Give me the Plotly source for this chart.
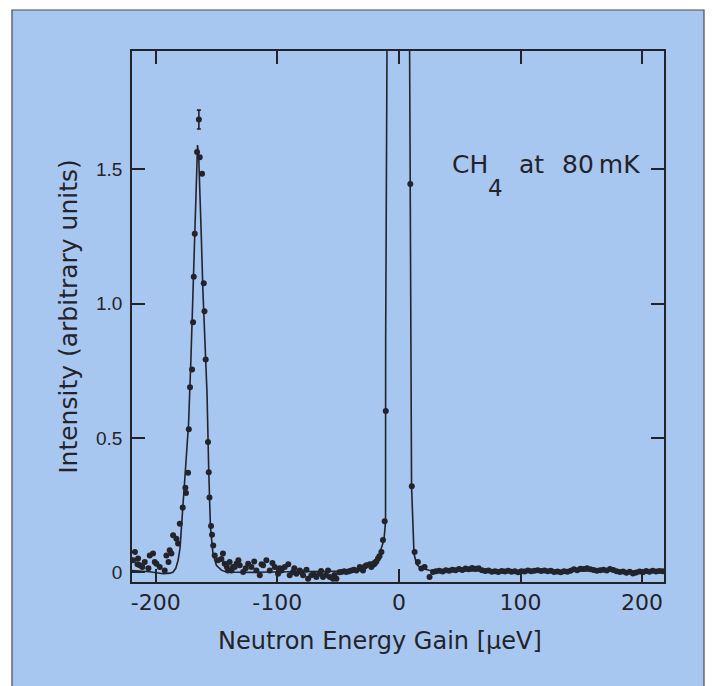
import plotly.graph_objects as go

# ---------------- data ----------------
# measured points, left wing + inelastic peak
left_x = [-218.6, -217.1, -215.0, -214.5, -213.1, -211.0, -209.0, -206.0, -204.9, -202.2,
          -200.8, -199.4, -196.7, -192.6, -191.2, -189.5, -188.5, -187.1, -185.7, -183.0,
          -181.6, -180.2, -177.8, -175.6, -175.1, -173.4, -172.8, -171.8, -170.1, -169.3,
          -168.7, -167.9, -166.0, -163.8, -161.9, -160.5, -159.9, -158.9, -157.0, -156.4,
          -155.8, -154.5, -153.7, -152.7, -151.5, -148.8, -146.0, -144.7, -143.3, -141.5,
          -140.5, -139.2, -136.4, -133.6, -132.0]
left_y = [0.045, 0.076, 0.030, 0.051, 0.026, 0.020, 0.038, 0.015, 0.063, 0.070,
          0.038, 0.032, 0.020, 0.007, 0.063, 0.038, 0.082, 0.070, 0.138, 0.125,
          0.107, 0.181, 0.241, 0.315, 0.295, 0.371, 0.532, 0.689, 0.755, 0.931,
          1.100, 1.260, 1.564, 1.545, 1.483, 1.076, 0.972, 0.792, 0.485, 0.372,
          0.278, 0.172, 0.140, 0.100, 0.063, 0.045, 0.050, 0.070, 0.032, 0.020,
          0.007, 0.038, 0.020, 0.032, 0.045]

# measured points, middle baseline up to the elastic line
mid_x = [-137.7, -135.0, -130.9, -128.1, -126.0, -124.0, -121.3, -119.0, -117.2, -114.4,
         -113.0, -111.7, -109.0, -106.2, -104.0, -102.1, -99.4, -98.0, -96.6, -93.9,
         -91.0, -89.8, -87.0, -86.0, -84.3, -81.6, -80.0, -78.8, -76.0, -74.7,
         -72.0, -70.0, -67.9, -65.1, -64.0, -62.4, -60.0, -58.3, -56.9, -54.2,
         -53.0, -51.4, -49.0, -47.3, -45.0, -43.2, -41.0, -39.1, -37.0, -35.0,
         -32.2, -31.0, -29.5, -28.0, -26.8, -24.0, -22.7, -21.0, -19.9, -18.5,
         -17.2, -16.0, -14.4, -13.1, -11.7, -10.8]
mid_y = [0.007, 0.020, 0.026, 0.001, 0.015, 0.032, 0.020, 0.040, 0.007, -0.011,
         0.030, 0.026, 0.045, 0.007, 0.035, 0.020, -0.005, 0.015, 0.007, 0.020,
         0.030, -0.011, 0.001, 0.015, -0.005, 0.007, 0.000, -0.011, 0.010, -0.024,
         -0.011, -0.005, -0.017, -0.005, 0.005, -0.017, -0.010, 0.007, -0.017, -0.024,
         -0.010, -0.024, 0.000, 0.001, 0.004, 0.001, 0.004, 0.007, 0.010, 0.007,
         0.020, 0.012, 0.007, 0.022, 0.026, 0.030, 0.020, 0.028, 0.032, 0.040,
         0.051, 0.060, 0.076, 0.120, 0.190, 0.600]

# measured points, right of the elastic line
right_x = [9.4, 10.6, 12.9, 15.6, 18.4, 21.1, 25.2, 28.0,
           30.5, 33.2, 35.9, 38.6, 41.3, 44.0, 46.7, 49.4, 52.1, 54.8,
           57.5, 60.2, 62.9, 65.6, 68.3, 71.0, 73.7, 76.4, 79.1, 81.8,
           84.5, 87.2, 89.9, 92.6, 95.3, 98.0, 100.7, 103.4, 106.1, 108.8,
           111.5, 114.2, 116.9, 119.6, 122.3, 125.0, 127.7, 130.4, 133.1, 135.8,
           138.5, 141.2, 143.9, 146.6, 149.3, 152.0, 154.7, 157.4, 160.1, 162.8,
           165.5, 168.2, 170.9, 173.6, 176.3, 179.0, 181.7, 184.4, 187.1, 189.8,
           192.5, 195.2, 197.9, 200.6, 203.3, 206.0, 208.7, 211.4, 214.1, 216.8]
right_y = [1.445, 0.320, 0.076, 0.038, 0.014, 0.020, -0.017, 0.001,
           0.004, 0.006, 0.003, 0.008, 0.006, 0.010, 0.008, 0.012, 0.009, 0.014,
           0.011, 0.016, 0.013, 0.015, 0.008, 0.005, 0.007, 0.002, 0.004, 0.001,
           0.005, 0.003, 0.006, 0.002, 0.004, 0.000, 0.004, 0.003, 0.007, 0.004,
           0.006, 0.008, 0.005, 0.007, 0.004, 0.006, 0.001, 0.003, 0.000, 0.004,
           0.002, 0.006, 0.011, 0.008, 0.013, 0.012, 0.015, 0.011, 0.009, 0.006,
           0.008, 0.010, 0.007, 0.012, 0.009, 0.004, 0.001, 0.003, -0.002, 0.002,
           -0.004, -0.001, 0.003, 0.000, 0.005, 0.002, 0.006, 0.003, 0.005, 0.004]

# the top point with its error bar
top_x = [-164.5]
top_y = [1.685]
top_err = [0.035]

# fitted curve, vertices
fit_x = [-219.5, -205.0, -194.0, -188.0, -185.7, -183.5, -181.6, -180.0, -178.8, -177.0,
         -175.0, -173.0, -171.0, -169.0, -167.5, -166.3, -165.6, -164.6, -163.6, -162.5,
         -161.2, -159.7, -157.8, -156.4, -155.0, -152.9, -150.1, -146.0, -141.9, -120.0,
         -90.0, -60.0, -48.0, -40.5, -32.3, -24.1, -18.6, -15.9, -12.3, -11.0,
         -10.9, -10.4, -9.9, -9.7, -0.5, 8.7, 8.8, 9.4, 10.4, 12.4,
         14.5, 18.0, 25.0, 40.0, 80.0, 130.0, 180.0, 218.0]
fit_y = [0.007, 0.002, -0.005, -0.003, 0.001, 0.015, 0.045, 0.090, 0.170, 0.280,
         0.400, 0.550, 0.800, 1.080, 1.350, 1.530, 1.590, 1.540, 1.420, 1.250,
         1.050, 0.850, 0.665, 0.380, 0.169, 0.070, 0.026, 0.008, 0.001, 0.000,
         0.001, 0.002, 0.003, 0.005, 0.014, 0.032, 0.050, 0.070, 0.120, 0.190,
         0.860, 1.400, 1.940, 2.050, 2.600, 2.050, 1.940, 1.300, 0.320, 0.070,
         0.030, 0.015, 0.008, 0.005, 0.005, 0.005, 0.005, 0.005]

x_ticks = [-200, -100, 0, 100, 200]
x_tick_text = ["-200", "-100", "0", "100", "200"]
y_ticks = [0, 0.5, 1.0, 1.5]
y_tick_text = ["0", "0.5", "1.0", "1.5"]

# ---------------- styling ----------------
BG = "#a8c7f0"
INK = "#23232b"
FONT = "DejaVu Sans"
FONT_Y = "Liberation Sans"

fig = go.Figure()

fig.add_trace(go.Scatter(x=fit_x, y=fit_y, mode="lines",
                         line=dict(color=INK, width=1.6), hoverinfo="skip"))

marker = dict(color=INK, size=6, line=dict(width=0))
for xs, ys in ((left_x, left_y), (mid_x, mid_y), (right_x, right_y)):
    fig.add_trace(go.Scatter(x=xs, y=ys, mode="markers", marker=marker))

fig.add_trace(go.Scatter(x=top_x, y=top_y, mode="markers", marker=marker,
                         error_y=dict(type="data", array=top_err, color=INK,
                                      thickness=1.6, width=2)))

label_font = dict(size=25, family=FONT, color=INK)
fig.update_layout(
    width=713, height=686,
    margin=dict(l=132, r=49, t=51, b=104, pad=0),
    paper_bgcolor="white", plot_bgcolor=BG,
    showlegend=False,
    font=dict(family=FONT, color=INK, size=20),
    shapes=[dict(type="rect", xref="paper", yref="paper",
                 x0=-0.2256, x1=1.0752, y0=-0.25, y1=1.0772,
                 fillcolor=BG, line=dict(color="#4a4a55", width=1.2),
                 layer="below")],
    annotations=[
        dict(xref="paper", yref="paper", x=0.5977, y=0.786, text="CH",
             showarrow=False, xanchor="left", yanchor="middle", font=label_font),
        dict(xref="paper", yref="paper", x=0.6842, y=0.742, text="4",
             showarrow=False, xanchor="center", yanchor="middle",
             font=dict(size=23, family=FONT, color=INK)),
        dict(xref="paper", yref="paper", x=0.7237, y=0.786, text="at",
             showarrow=False, xanchor="left", yanchor="middle", font=label_font),
        dict(xref="paper", yref="paper", x=0.8045, y=0.786, text="80\u2009mK",
             showarrow=False, xanchor="left", yanchor="middle", font=label_font),
        dict(xref="paper", yref="paper", x=0.466, y=-0.111,
             text="Neutron Energy Gain [μeV]", showarrow=False,
             xanchor="center", yanchor="middle",
             font=dict(size=24, family=FONT, color=INK)),
    ],
)

fig.update_xaxes(range=[-219.5, 218], tickmode="array", tickvals=x_ticks,
                 ticktext=x_tick_text, ticks="inside", ticklen=13, tickwidth=1.5,
                 tickcolor=INK, showline=True, linewidth=1.8, linecolor=INK,
                 mirror="ticks", showgrid=False, zeroline=False,
                 tickfont=dict(size=22, family=FONT, color=INK),
                 ticklabelstandoff=0)
fig.update_yaxes(range=[-0.036, 1.94], tickmode="array", tickvals=y_ticks,
                 ticktext=y_tick_text, ticks="inside", ticklen=13, tickwidth=1.5,
                 tickcolor=INK, showline=True, linewidth=1.8, linecolor=INK,
                 mirror="ticks", showgrid=False, zeroline=False,
                 tickfont=dict(size=19, family=FONT_Y, color=INK),
                 ticklabelstandoff=4,
                 title=dict(text="Intensity (arbitrary units)",
                            font=dict(size=25, family=FONT, color=INK), standoff=11))

fig.write_html("out.html", config={"displayModeBar": False},
               post_script="document.body.style.margin='0';"
                           "document.body.style.padding='0';")
